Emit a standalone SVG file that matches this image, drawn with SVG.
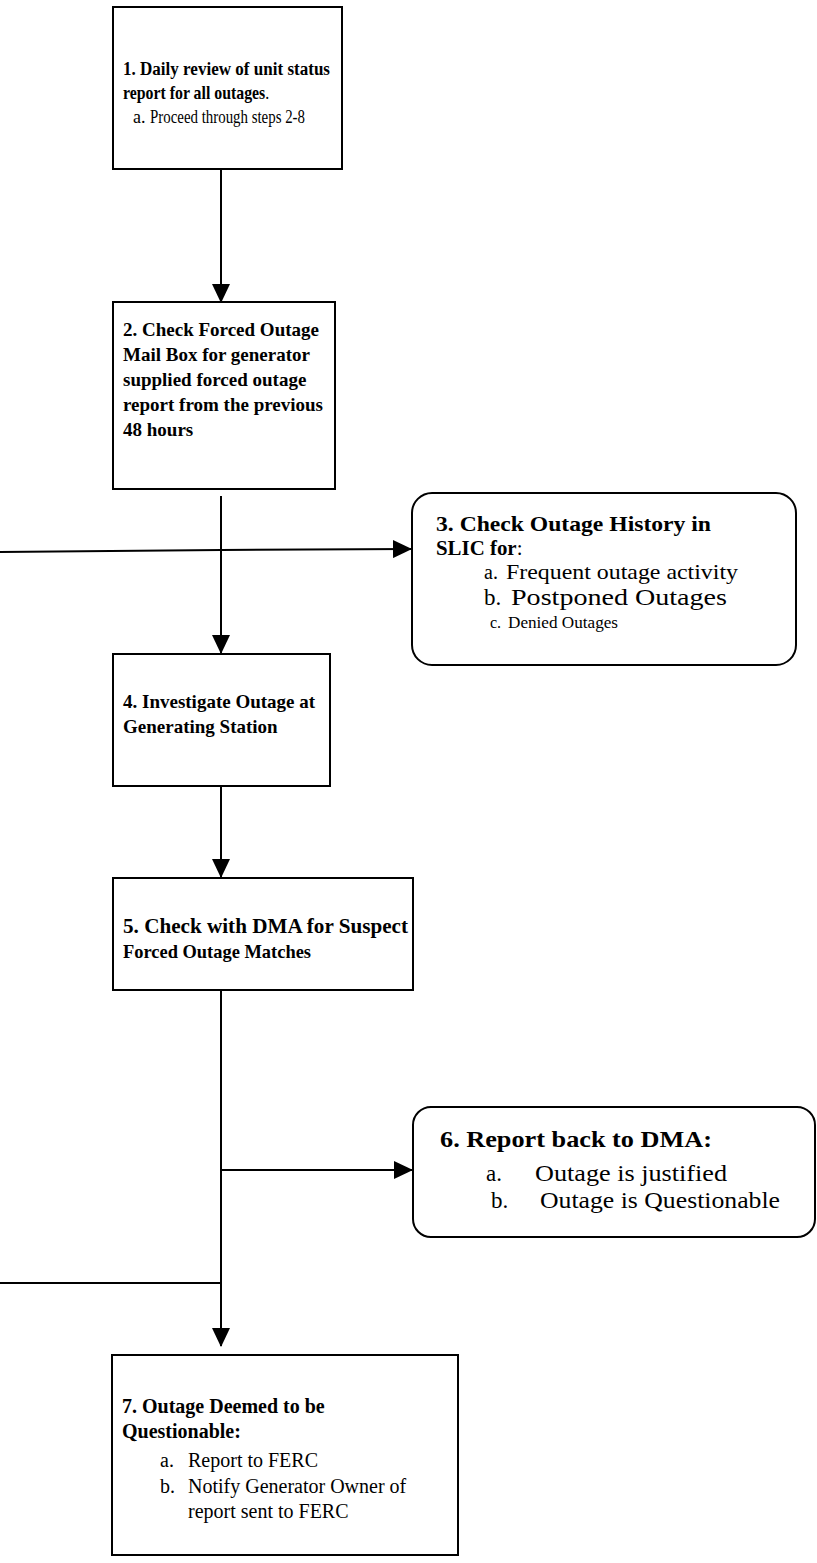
<svg xmlns="http://www.w3.org/2000/svg" width="817" height="1563" viewBox="0 0 817 1563">
<style>
.box{fill:#fff;stroke:#000;stroke-width:2}
.ln{fill:none;stroke:#000;stroke-width:2}
text{font-family:"Liberation Serif","Times New Roman",serif;fill:#000}
.b{font-weight:bold}
</style>
<defs>
<marker id="ah" markerWidth="19" markerHeight="18" refX="18" refY="9" orient="auto" markerUnits="userSpaceOnUse" viewBox="0 0 19 18">
<path d="M0,0 L19,9 L0,18 Z" fill="#000"/>
</marker>
</defs>
<g id="connectors">
<path class="ln" d="M221,169 V302" marker-end="url(#ah)"/>
<path class="ln" d="M221,496 V653" marker-end="url(#ah)"/>
<path class="ln" d="M0,552 L221,550 L411,549" marker-end="url(#ah)"/>
<path class="ln" d="M221,786 V877" marker-end="url(#ah)"/>
<path class="ln" d="M221,990 V1346" marker-end="url(#ah)"/>
<path class="ln" d="M221,1170 H412" marker-end="url(#ah)"/>
<path class="ln" d="M0,1283 H221"/>
</g>
<g id="node1" font-size="18">
<rect class="box" x="113" y="7" width="229" height="162"/>
<text x="123" y="75" class="b" textLength="207" lengthAdjust="spacingAndGlyphs">1. Daily review of unit status</text>
<text transform="translate(123,99) scale(0.88,1)"><tspan class="b">report for all outages</tspan>.</text>
<text x="133" y="123">a.</text>
<text x="150" y="123" textLength="155" lengthAdjust="spacingAndGlyphs">Proceed through steps 2-8</text>
</g>
<g id="node2" font-size="19">
<rect class="box" x="113" y="302" width="222" height="187"/>
<text x="123" y="336" class="b">2. Check Forced Outage</text>
<text x="123" y="361" class="b">Mail Box for generator</text>
<text x="123" y="386" class="b">supplied forced outage</text>
<text x="123" y="411" class="b">report from the previous</text>
<text x="123" y="436" class="b">48 hours</text>
</g>
<g id="node3">
<rect class="box" x="412" y="493" width="384" height="172" rx="20"/>
<text x="436" y="531" class="b" font-size="22" textLength="275" lengthAdjust="spacingAndGlyphs">3. Check Outage History in</text>
<text transform="translate(436,555) scale(0.95,1)" font-size="22"><tspan class="b">SLIC for</tspan>:</text>
<text x="484" y="579" font-size="20">a.</text>
<text x="506" y="579" font-size="22" textLength="232" lengthAdjust="spacingAndGlyphs">Frequent outage activity</text>
<text x="484" y="605" font-size="23">b.</text>
<text x="511" y="605" font-size="24" textLength="216" lengthAdjust="spacingAndGlyphs">Postponed Outages</text>
<text x="490" y="628" font-size="16">c.</text>
<text x="508" y="628" font-size="16" textLength="110" lengthAdjust="spacingAndGlyphs">Denied Outages</text>
</g>
<g id="node4" font-size="19">
<rect class="box" x="113" y="654" width="217" height="132"/>
<text x="123" y="708" class="b">4.  Investigate Outage at</text>
<text x="123" y="733" class="b">Generating Station</text>
</g>
<g id="node5" font-size="19">
<rect class="box" x="113" y="878" width="300" height="112"/>
<text x="123" y="933" class="b" font-size="20" textLength="285" lengthAdjust="spacingAndGlyphs">5. Check with DMA for Suspect</text>
<text x="123" y="958" class="b" textLength="188" lengthAdjust="spacingAndGlyphs">Forced Outage Matches</text>
</g>
<g id="node6">
<rect class="box" x="413" y="1107" width="402" height="130" rx="18"/>
<text x="440" y="1147" class="b" font-size="24" textLength="272" lengthAdjust="spacingAndGlyphs">6. Report back to DMA:</text>
<text x="486" y="1181" font-size="23">a.</text>
<text x="535" y="1181" font-size="24" textLength="192" lengthAdjust="spacingAndGlyphs">Outage is justified</text>
<text x="491" y="1208" font-size="23">b.</text>
<text x="540" y="1208" font-size="24" textLength="240" lengthAdjust="spacingAndGlyphs">Outage is Questionable</text>
</g>
<g id="node7" font-size="20">
<rect class="box" x="112" y="1355" width="346" height="200"/>
<text x="122" y="1413" class="b">7. Outage Deemed to be</text>
<text x="122" y="1438" class="b">Questionable:</text>
<text x="160" y="1467">a.</text>
<text x="188" y="1467">Report to FERC</text>
<text x="160" y="1493">b.</text>
<text x="188" y="1493">Notify Generator Owner of</text>
<text x="188" y="1518">report sent to FERC</text>
</g>
</svg>
